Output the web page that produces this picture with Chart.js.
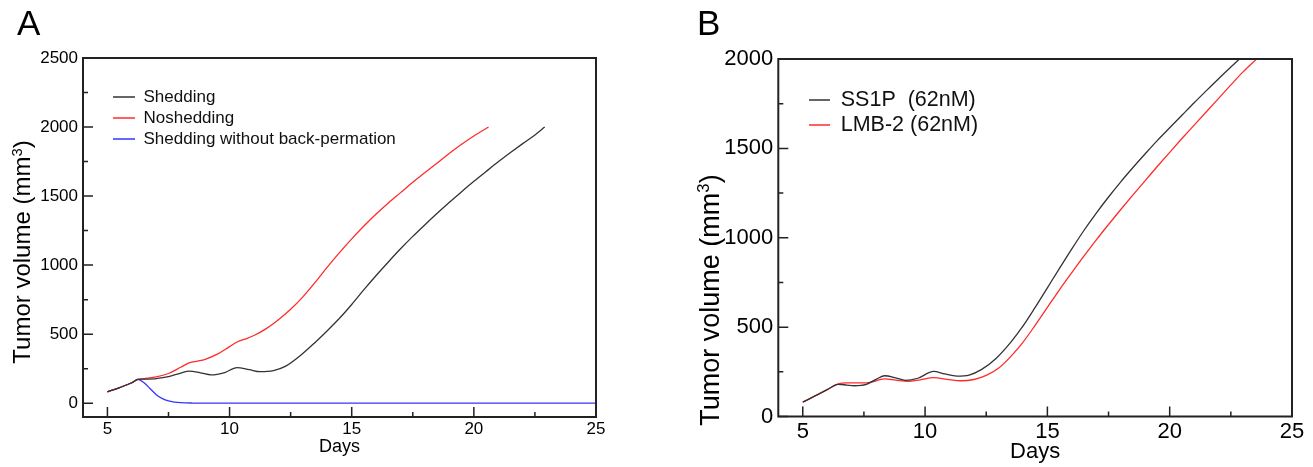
<!DOCTYPE html>
<html>
<head>
<meta charset="utf-8">
<script src="https://cdn.jsdelivr.net/npm/chart.js@4.4.1/dist/chart.umd.min.js"></script>
<style>
  html, body { margin: 0; padding: 0; background: #fff; }
  body { width: 1313px; height: 467px; position: relative; overflow: hidden;
         font-family: "Liberation Sans", Arial, sans-serif; color: #000; }
  .panel { position: absolute; top: 0; height: 467px; }
  #wrapA { left: 0; width: 656px; }
  #wrapB { left: 656px; width: 657px; }
  .tag { position: absolute; top: 5px; font-size: 35px; line-height: 1; }
  .ylab { position: absolute; white-space: nowrap; line-height: 1;
          transform: translate(-50%, -50%) rotate(-90deg); }
  .ylab sup { font-size: 0.62em; vertical-align: 0.55em; line-height: 0; }
</style>
</head>
<body>
<div class="panel" id="wrapA"><canvas id="chartA"></canvas></div>
<div class="panel" id="wrapB"><canvas id="chartB"></canvas></div>
<div class="tag" style="left:17px">A</div>
<div class="tag" style="left:697px">B</div>
<div class="ylab" style="left:22px; top:252px; font-size:24px">Tumor volume (mm<sup>3</sup>)</div>
<div class="ylab" style="left:710px; top:300px; font-size:27px">Tumor volume (mm<sup>3</sup>)</div>
<script>
// ─── DATA ────────────────────────────────────────────────────────────────
const xTicks      = [5, 10, 15, 20, 25];
const xMinorTicks = [7.5, 12.5, 17.5, 22.5];

const yTicksA      = [0, 500, 1000, 1500, 2000, 2500];
const yMinorTicksA = [250, 750, 1250, 1750, 2250];
const yTicksB      = [0, 500, 1000, 1500, 2000];
const yMinorTicksB = [250, 750, 1250, 1750];

// panel A
const aShedDays = [5, 5.5, 6, 6.25, 6.5, 7, 7.5, 8, 8.35, 8.8, 9.25, 9.8, 10.3, 10.8, 11.25, 11.8, 12.3, 12.9, 13.5, 14, 14.5, 15, 15.5, 16, 16.5, 17, 17.5, 18, 18.5, 19, 19.5, 20, 20.5, 21, 21.5, 22, 22.5, 22.9];
const aShedVol  = [82, 113, 148, 172, 174, 178, 192, 218, 232, 220, 205, 222, 257, 243, 228, 236, 268, 345, 440, 525, 615, 715, 822, 925, 1023, 1118, 1208, 1293, 1375, 1455, 1532, 1607, 1678, 1748, 1815, 1880, 1943, 2000];

const aNoShedDays = [5, 5.5, 6, 6.25, 6.5, 7, 7.5, 8, 8.35, 8.7, 9, 9.5, 10, 10.35, 10.7, 11, 11.5, 12, 12.5, 13, 13.5, 14, 14.5, 15, 15.5, 16, 16.5, 17, 17.5, 18, 18.5, 19, 19.5, 20, 20.6];
const aNoShedVol  = [82, 113, 148, 172, 178, 190, 215, 260, 292, 305, 318, 355, 410, 447, 468, 490, 540, 605, 680, 770, 875, 985, 1090, 1190, 1283, 1370, 1450, 1525, 1600, 1670, 1740, 1810, 1875, 1935, 2000];

const aNoBackDays = [5, 5.5, 6, 6.25, 6.5, 6.75, 7, 7.25, 7.5, 7.75, 8, 8.5, 9, 12, 16, 20, 25];
const aNoBackVol  = [82, 113, 148, 172, 148, 105, 62, 33, 16, 8, 4, 1, 0, 0, 0, 0, 0];

// panel B
const bSs1pDays = [5, 5.5, 6, 6.45, 6.8, 7.1, 7.6, 8, 8.35, 8.8, 9.2, 9.7, 10.35, 10.8, 11.3, 11.8, 12.3, 12.9, 13.5, 14, 14.5, 15, 15.5, 16, 16.5, 17, 17.5, 18, 18.5, 19, 19.5, 20, 20.5, 21, 21.5, 22, 22.5, 22.85];
const bSs1pVol  = [80, 115, 150, 180, 176, 172, 180, 208, 228, 216, 202, 214, 252, 238, 226, 232, 262, 325, 415, 505, 610, 720, 830, 938, 1042, 1138, 1228, 1313, 1393, 1470, 1545, 1615, 1685, 1755, 1823, 1890, 1955, 2000];

const bLmbDays = [5, 5.5, 6, 6.45, 6.8, 7.2, 7.7, 8.35, 8.8, 9.3, 9.8, 10.35, 10.9, 11.45, 12, 12.5, 13, 13.5, 14, 14.5, 15, 15.5, 16, 16.5, 17, 17.5, 18, 18.5, 19, 19.5, 20, 20.5, 21, 21.5, 22, 22.5, 23, 23.55];
const bLmbVol  = [80, 115, 150, 183, 188, 188, 190, 210, 203, 196, 205, 217, 208, 200, 207, 230, 270, 335, 415, 510, 610, 710, 805, 898, 988, 1074, 1158, 1240, 1320, 1400, 1478, 1555, 1630, 1705, 1780, 1855, 1928, 2000];

const FONT = '"Liberation Sans", Arial, sans-serif';
const BLACK = '#333333', RED = '#ff2b2b', BLUE = '#3535ff';

// ─── PLUGINS ─────────────────────────────────────────────────────────────
// cadre complet + graduations vers l'intérieur
const boxTicks = {
    id: 'boxTicks',
    afterDatasetsDraw(chart, args, opts) {
        const { ctx, chartArea: a, scales: { x, y } } = chart;
        ctx.save();
        ctx.strokeStyle = '#222';
        ctx.lineWidth = 1.5;
        ctx.beginPath();
        const mark = (scale, vals, len) => vals.forEach(v => {
            const p = scale.getPixelForValue(v);
            if (scale.isHorizontal()) { ctx.moveTo(p, a.bottom); ctx.lineTo(p, a.bottom - len); }
            else { ctx.moveTo(a.left, p); ctx.lineTo(a.left + len, p); }
        });
        mark(x, x.ticks.map(t => t.value), 10);
        mark(x, opts.xMinor, 5);
        mark(y, y.ticks.map(t => t.value), 10);
        mark(y, opts.yMinor, 5);
        ctx.stroke();
        ctx.lineWidth = 2;
        ctx.strokeRect(a.left, a.top, a.width, a.height);
        ctx.restore();
    }
};

// légende placée dans la zone du graphe
const legendSpot = {
    id: 'legendSpot',
    afterLayout(chart, args, opts) {
        const lg = chart.legend;
        if (!lg) return;
        const a = chart.chartArea;
        lg.left = a.left + opts.dx;
        lg.top = a.top + opts.dy;
        lg.right = a.right;
        lg.bottom = a.bottom;
    }
};

function series(label, days, vols, color) {
    return {
        label,
        data: days.map((d, i) => ({ x: d, y: vols[i] })),
        borderColor: color,
        backgroundColor: color,
        pointBorderColor: color,
        borderWidth: 1.3,
        pointBorderWidth: 1.3,
        pointRadius: 0,
        pointHoverRadius: 0,
        cubicInterpolationMode: 'monotone',
        fill: false
    };
}

function makeChart(id, p) {
    return new Chart(document.getElementById(id), {
        type: 'line',
        data: { datasets: p.datasets },
        options: {
            responsive: true,
            maintainAspectRatio: false,
            animation: false,
            layout: { padding: { left: 0, top: p.top, right: p.right, bottom: 0 } },
            scales: {
                x: {
                    type: 'linear', min: 4, max: 25,
                    afterBuildTicks: s => { s.ticks = xTicks.map(v => ({ value: v })); },
                    afterFit: s => { s.height = p.xAxisH; },
                    grid: { display: false, drawTicks: false },
                    border: { display: false },
                    ticks: { autoSkip: false, maxRotation: 0, padding: 2, color: '#000',
                             font: { size: p.tick, family: FONT }, callback: v => String(v) },
                    title: { display: true, text: 'Days', color: '#000',
                             font: { size: p.xTitle, family: FONT }, padding: { top: 0, bottom: p.xTitlePad } }
                },
                y: {
                    type: 'linear', min: p.yMin, max: p.yMax,
                    afterBuildTicks: s => { s.ticks = p.yTicks.map(v => ({ value: v })); },
                    afterFit: s => { s.width = p.yAxisW; },
                    grid: { display: false, drawTicks: false },
                    border: { display: false },
                    ticks: { autoSkip: false, padding: 5, color: '#000',
                             font: { size: p.tick, family: FONT }, callback: v => String(v) },
                    title: { display: false }
                }
            },
            plugins: {
                legend: {
                    position: 'chartArea',
                    align: 'start',
                    labels: {
                        usePointStyle: true, pointStyle: 'line', pointStyleWidth: p.legLine,
                        padding: p.legPad, color: '#111',
                        font: { size: p.legFont, family: FONT }
                    }
                },
                tooltip: { enabled: false },
                boxTicks: { xMinor: xMinorTicks, yMinor: p.yMinor },
                legendSpot: { dx: p.legDx, dy: p.legDy }
            }
        },
        plugins: [boxTicks, legendSpot]
    });
}

makeChart('chartA', {
    datasets: [
        series('Shedding', aShedDays, aShedVol, BLACK),
        series('Noshedding', aNoShedDays, aNoShedVol, RED),
        series('Shedding without back-permation', aNoBackDays, aNoBackVol, BLUE)
    ],
    top: 58, right: 60, xAxisH: 50, yAxisW: 83,
    yMin: -100, yMax: 2500, yTicks: yTicksA, yMinor: yMinorTicksA,
    tick: 17, xTitle: 18, xTitlePad: 9,
    legFont: 17, legPad: 4, legLine: 22, legDx: 26, legDy: 26.5
});

makeChart('chartB', {
    datasets: [
        series('SS1P  (62nM)', bSs1pDays, bSs1pVol, BLACK),
        series('LMB-2 (62nM)', bLmbDays, bLmbVol, RED)
    ],
    top: 59, right: 21, xAxisH: 50.5, yAxisW: 122.3,
    yMin: 0, yMax: 2000, yTicks: yTicksB, yMinor: yMinorTicksB,
    tick: 22, xTitle: 22, xTitlePad: 2,
    legFont: 21.5, legPad: 3.5, legLine: 21, legDx: 27.2, legDy: 26.75
});
</script>
</body>
</html>
